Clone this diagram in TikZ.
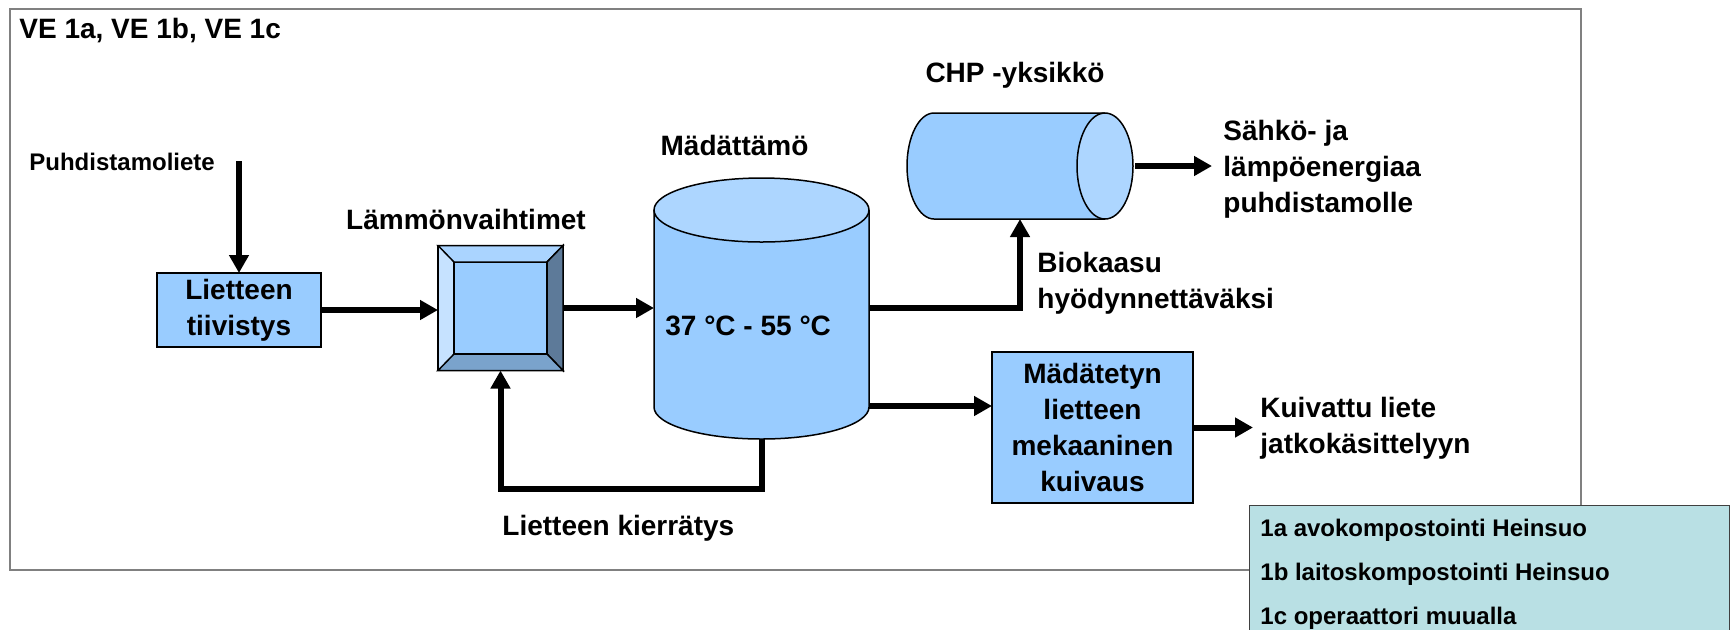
\documentclass[tikz,border=0pt]{standalone}
\usepackage{fontspec}
\setmainfont{Liberation Sans}
\usetikzlibrary{arrows.meta}

\definecolor{boxblue}{RGB}{153,204,255}
\definecolor{topblue}{RGB}{173,214,255}
\definecolor{bevellight}{RGB}{198,226,255}
\definecolor{beveltop}{RGB}{170,212,255}
\definecolor{beveldark}{RGB}{93,122,153}
\definecolor{bevelmid}{RGB}{122,163,204}
\definecolor{legendteal}{RGB}{185,224,228}

\begin{document}
\begin{tikzpicture}[x=0.5pt, y=-0.5pt, font=\bfseries\fontsize{14pt}{18pt}\selectfont,
	flow/.style={line width=3pt, -{Triangle[length=9pt,width=9.5pt]}},
	procbox/.style={draw, line width=0.75pt, fill=boxblue, align=center, inner sep=0pt, outer sep=0pt},
	shell/.style={inner sep=0pt, outer sep=0pt},
	txt/.style={inner sep=0pt, align=left},
	small/.style={font=\bfseries\fontsize{12pt}{22pt}\selectfont}]
	\useasboundingbox (0,0) rectangle (1735,629);
	\clip (0,0) rectangle (1735,629);
	\draw[gray, line width=0.75pt] (10,9) rectangle (1581,570);

	\node[txt, anchor=base west] (title) at (19,38) {VE 1a, VE 1b, VE 1c};
	\node[txt, small, anchor=base west] (feed) at (29,170) {Puhdistamoliete};
	\node[procbox, minimum width=82pt, minimum height=37pt] (thicken) at (239,310) {Lietteen\\tiivistys};

	% heat exchanger
	\node[shell, draw, line width=0.75pt, fill=bevellight, minimum size=62.5pt] (hex) at (500.5,308) {};
	\node[shell, draw, line width=0.75pt, fill=boxblue, minimum width=46.5pt, minimum height=46pt] (hexcore) at (hex) {};
	\draw[line width=0.75pt, fill=beveltop] (hex.north west) -- (hex.north east) -- (hexcore.north east) -- (hexcore.north west) -- cycle;
	\draw[line width=0.75pt, fill=beveldark] (hex.north east) -- (hex.south east) -- (hexcore.south east) -- (hexcore.north east) -- cycle;
	\draw[line width=0.75pt, fill=bevelmid] (hex.south west) -- (hex.south east) -- (hexcore.south east) -- (hexcore.south west) -- cycle;
	\node[txt, anchor=base] (hexlabel) at (466,229) {Lämmönvaihtimet};

	% digester
	\path[fill=boxblue, draw, line width=0.75pt] (654,210) -- (654,407) arc[start angle=180, end angle=0, x radius=107.5, y radius=32] -- (869,210);
	\draw[fill=topblue, line width=0.75pt] (761.5,210) ellipse [x radius=107.5, y radius=32];
	\node[shell, minimum width=107.5pt, minimum height=131pt] (digester) at (761.5,308) {};
	\node[txt, anchor=base west] (temp) at (665,335) {37 °C - 55 °C};
	\node[txt, anchor=base] (diglabel) at (734.5,155) {Mädättämö};

	% CHP unit
	\path[fill=boxblue, draw, line width=0.75pt] (1105,113) -- (934,113) arc[start angle=270, end angle=90, x radius=27, y radius=53] -- (1105,219);
	\draw[fill=topblue, line width=0.75pt] (1105,166) ellipse [x radius=28, y radius=53];
	\node[shell, minimum width=113pt, minimum height=53pt] (chp) at (1020,166) {};
	\node[txt, anchor=base] (chplabel) at (1015,82) {CHP -yksikkö};
	\node[txt, anchor=north west] (power) at (1223,120) {Sähkö- ja\\lämpöenergiaa\\puhdistamolle};
	\node[txt, anchor=north west] (biogas) at (1037,252) {Biokaasu\\hyödynnettäväksi};

	\node[procbox, minimum width=100.5pt, minimum height=75.5pt] (dryer) at (1092.5,427.5) {Mädätetyn\\lietteen\\mekaaninen\\kuivaus};
	\node[txt, anchor=north west] (dried) at (1260,397) {Kuivattu liete\\jatkokäsittelyyn};
	\node[txt, anchor=base west] (recycle) at (502,535) {Lietteen kierrätys};

	% options
	\node[shell, draw=darkgray, line width=0.5pt, fill=legendteal, minimum width=240pt, minimum height=70pt, anchor=north west] (legend) at (1249,505) {};
	\node[txt, small, anchor=north west] (options) at (1260,519) {1a avokompostointi Heinsuo\\1b laitoskompostointi Heinsuo\\1c operaattori muualla};

	\draw[flow] (thicken.north |- feed.east) -- (thicken.north);
	\draw[flow] (thicken.east) -- (thicken.east -| hex.west);
	\draw[flow] (hex.east) -- (hex.east -| digester.west);
	\draw[flow] (digester.east) -| (chp.south);
	\draw[flow, shorten <=1pt, shorten >=5.5pt] (chp.east) -- (chp.east -| power.west);
	\draw[flow] (digester.east |- 0,406) -- (dryer.west |- 0,406);
	\draw[flow, shorten >=3.5pt] (dryer.east) -- (dryer.east -| dried.west);
	\draw[flow] (digester.south) -- ++(0,50) -| (hex.south);
\end{tikzpicture}
\end{document}
